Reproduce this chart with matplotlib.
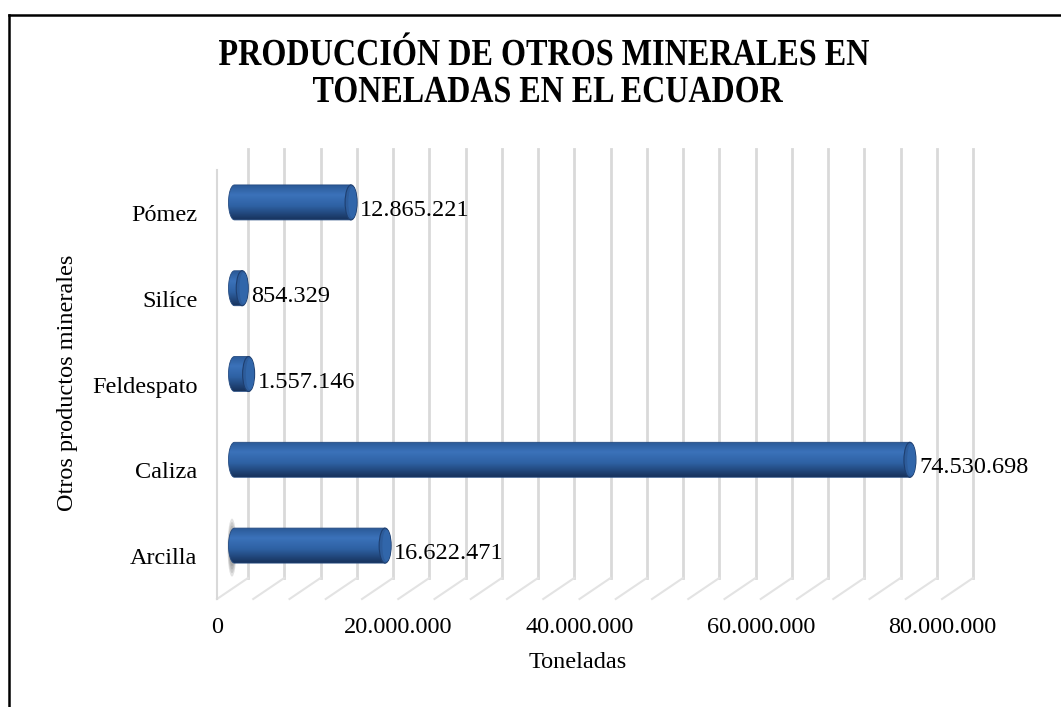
import matplotlib
matplotlib.use("Agg")
import matplotlib.pyplot as plt
import numpy as np
from matplotlib.patches import Ellipse, PathPatch
from matplotlib.path import Path
from matplotlib.lines import Line2D
from matplotlib.colors import LinearSegmentedColormap
from matplotlib.textpath import TextPath
from matplotlib.font_manager import FontProperties
from matplotlib.transforms import Affine2D

plt.rcParams['font.family'] = ['Liberation Serif', 'DejaVu Serif']

# data
categories = ["Arcilla", "Caliza", "Feldespato", "Silíce", "Pómez"]
values = [16622471, 74530698, 1557146, 854329, 12865221]
ticks = [0, 20000000, 40000000, 60000000, 80000000]
grid_step = 4000000
xmax = 80000000
title_lines = ["PRODUCCIÓN DE OTROS MINERALES EN", "TONELADAS EN EL ECUADOR"]

W, H = 1061, 707
fig = plt.figure(figsize=(W / 100, H / 100), dpi=100)

# front plane of the 3d box, in pixels
left_px, right_px = 217, 942
top_px, bot_px = 170, 599
ax = fig.add_axes([left_px / W, 1 - bot_px / H,
                   (right_px - left_px) / W, (bot_px - top_px) / H])
ax.set_xlim(0, xmax)
ax.set_ylim(-0.5, len(categories) - 0.5)
for s in ax.spines.values():
    s.set_visible(False)

# pixel -> data conversion
ux = xmax / (right_px - left_px)
uy = len(categories) / (bot_px - top_px)
# depth offset of back wall
dx, dy = 31 * ux, 21 * uy

# back wall + floor grid
for v in np.arange(0, xmax + 1, grid_step):
    ax.add_line(Line2D([v + dx, v + dx], [-0.5 + dy, len(categories) - 0.5 + dy],
                       color="#d9d9d9", lw=2.0, clip_on=False, zorder=1))
    ax.add_line(Line2D([v, v + dx], [-0.5, -0.5 + dy],
                       color="#e3e3e3", lw=1.5, clip_on=False, zorder=1))
# left wall front edge
ax.add_line(Line2D([0, 0], [-0.5, len(categories) - 0.5],
                   color="#d9d9d9", lw=1.5, clip_on=False, zorder=1))

# blurry shadow at base of the first bar
for k in range(6):
    ax.add_patch(Ellipse((15 * ux, 0.5 * dy - 2 * uy), (9 - k) * ux, (58 - 7 * k) * uy,
                         facecolor="#606060", alpha=0.18, edgecolor="none", zorder=2))

cmap = LinearSegmentedColormap.from_list(
    "cyl", [(0, "#2b5a98"), (0.28, "#3b72ba"), (0.6, "#2e61a3"), (1, "#17325c")])
grad = np.linspace(0, 1, 100).reshape(-1, 1)

half_h = 17.5 * uy
cap_w = 12 * ux
x_off = dx / 2 + 2 * ux
y_off = dy / 2

for i, (cat, val) in enumerate(zip(categories, values)):
    yc = i + y_off
    x0 = x_off
    x1 = x_off + val
    # body: rectangle with rounded left end (half ellipse)
    t = np.linspace(np.pi / 2, 3 * np.pi / 2, 30)
    lx = x0 + cap_w / 2 * np.cos(t)
    ly = yc + half_h * np.sin(t)
    verts = [(x1, yc + half_h)] + list(zip(lx, ly)) + [(x1, yc - half_h), (x1, yc + half_h)]
    body = PathPatch(Path(verts), facecolor="none", edgecolor="none")
    ax.add_patch(body)
    im = ax.imshow(grad, cmap=cmap, aspect="auto",
                   extent=[x0 - cap_w, x1 + cap_w, yc - half_h, yc + half_h],
                   zorder=3, interpolation="bilinear")
    im.set_clip_path(body)
    ax.add_patch(PathPatch(Path(verts), facecolor="none", edgecolor="#244a80",
                           lw=0.6, zorder=4))
    # end cap
    ax.add_patch(Ellipse((x1, yc), cap_w, 2 * half_h, facecolor="#2d5c9b",
                         edgecolor="#1e3f70", lw=0.8, zorder=5))
    ax.add_patch(Ellipse((x1 + cap_w * 0.12, yc), cap_w * 0.7, 2 * half_h * 0.9,
                         facecolor="#3166aa", edgecolor="none", zorder=5))
    # value label
    lab = f"{val:,}".replace(",", ".")
    ax.text(x1 + cap_w / 2 + 3 * ux, yc - 8 * uy, lab, fontsize=17.5,
            ha="left", va="center", zorder=6)

ax.set_xticks(ticks)
ax.set_xticklabels([f"{t:,}".replace(",", ".") for t in ticks], fontsize=17.5)
ax.set_yticks(range(len(categories)))
ax.set_yticklabels(categories, fontsize=17.5)
ax.tick_params(axis="x", length=0, pad=13)
ax.tick_params(axis="y", length=0, pad=14)
ax.set_xlim(0, xmax)
ax.set_ylim(-0.5, len(categories) - 0.5)

fig.text(578 / W, 1 - 663 / H, "Toneladas", fontsize=17.5, ha="center", va="center")
fig.text(68 / W, 1 - 383 / H, "Otros productos minerales", fontsize=17.5,
         rotation=90, ha="center", va="center")

# title: bold serif, stretched taller like the original (drawn as text paths)
fp = FontProperties(family="Liberation Serif", weight="bold")
cap_h = TextPath((0, 0), "E", size=30, prop=fp).get_extents().height
# (center x, baseline y from top, width, cap height) in pixels
title_boxes = [(544, 65, 650, 25), (548, 102, 470, 25)]
for line, (cx, base, wid, ch) in zip(title_lines, title_boxes):
    tp = TextPath((0, 0), line, size=30, prop=fp)
    ext = tp.get_extents()
    sx = wid / ext.width
    sy = ch / cap_h
    tr = (Affine2D().translate(-(ext.x0 + ext.x1) / 2, 0).scale(sx, sy)
          .translate(cx, H - base).scale(1 / 100) + fig.dpi_scale_trans)
    fig.add_artist(PathPatch(tp, transform=tr, facecolor="black", edgecolor="none"))

# outer border (top and left visible)
fig.add_artist(Line2D([8.5 / W, 1.0], [1 - 14.5 / H, 1 - 14.5 / H],
                      transform=fig.transFigure, color="black", lw=1.8))
fig.add_artist(Line2D([8.5 / W, 8.5 / W], [0, 1 - 14.5 / H],
                      transform=fig.transFigure, color="black", lw=1.8))

fig.savefig("out.png", dpi=100)
